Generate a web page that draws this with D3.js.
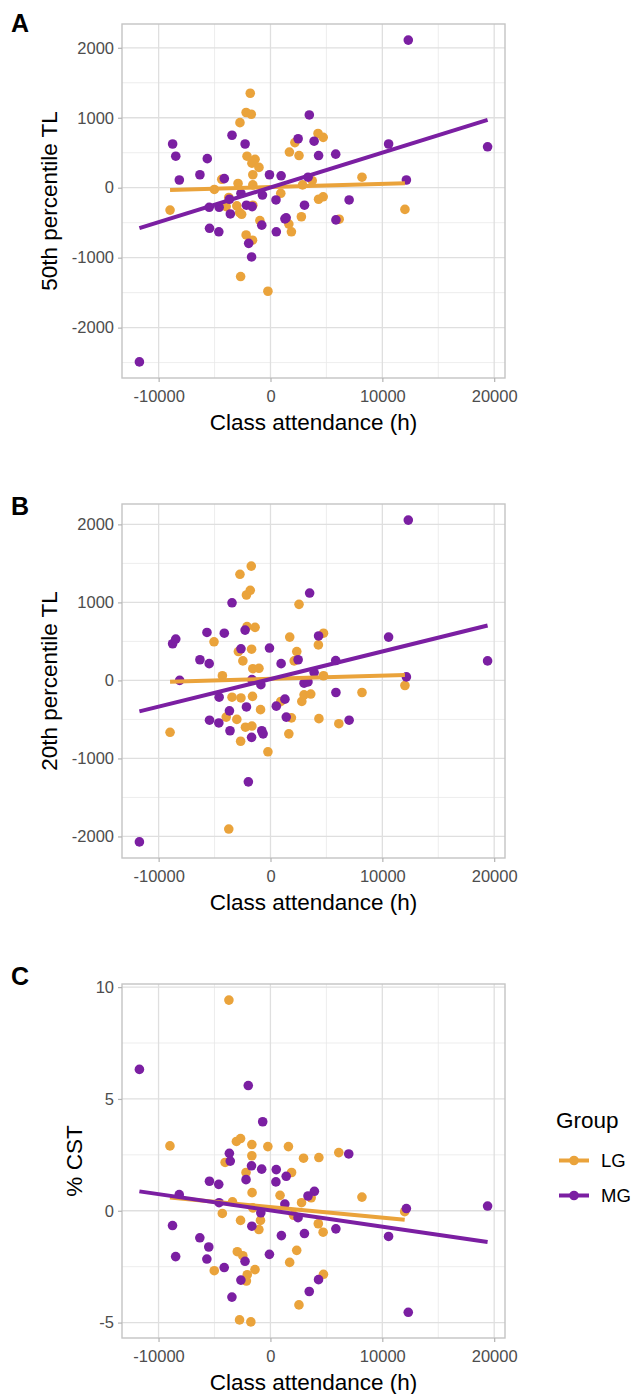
<!DOCTYPE html>
<html lang="en">
<head>
<meta charset="utf-8">
<title>Class attendance</title>
<script src="https://d3js.org/d3.v7.min.js"></script>
<style>
  body { margin: 0; background: #fff; }
  text { font-family: "Liberation Sans", Arial, sans-serif; }
</style>
</head>
<body>
<script>
// sizes
const svgWidth = 644, svgHeight = 1394;
const panelLeft = 122, panelRight = 505, panelH = 354;
const lgColor = "#EAA33B", mgColor = "#7B1FA2";

// ticks
const xTicks = [-10000, 0, 10000, 20000];
const tlTicks = [-2000, -1000, 0, 1000, 2000];
const cstTicks = [-5, 0, 5, 10];
const groups = ["LG", "MG"];

// panel A: 50th percentile TL, [class attendance, value]
const a_lg = [[-1810,1350],[-2180,1075],[-1720,1050],[-2730,930],[4250,775],[4710,720],[2180,645],[1690,510],[2550,460],[-2100,450],[-1380,405],[-1660,350],[-1030,290],[-1580,185],[-4360,120],[-2900,60],[-5020,-25],[-1580,40],[8180,150],[2870,40],[3730,100],[920,-80],[-8980,-320],[-3730,-140],[-3010,-260],[-3960,-270],[-2760,-355],[-2580,-380],[-1580,-250],[4300,-165],[4710,-130],[2760,-415],[-950,-470],[1640,-520],[1870,-630],[6140,-450],[-2180,-675],[-1610,-750],[-2670,-1270],[-230,-1480],[12020,-310]];
const a_mg = [[-8750,625],[-8470,450],[-8150,110],[-6310,185],[-5650,415],[-3440,750],[-2270,625],[-4130,130],[-5480,-280],[-4590,-280],[-5450,-580],[-4620,-630],[-3670,-165],[-3590,-375],[-2640,-80],[-2150,-250],[-1640,-270],[-720,-105],[-90,185],[950,170],[490,-175],[-780,-535],[-1950,-795],[-1690,-990],[520,-630],[1290,-445],[1400,-430],[2470,700],[3470,1040],[3900,665],[4300,460],[5830,480],[3360,150],[3040,-250],[5850,-460],[7030,-175],[10560,625],[12150,110],[12320,2110],[19410,585],[-11720,-2490]];

// panel B: 20th percentile TL
const b_lg = [[-1720,1465],[-2730,1360],[-1810,1155],[-2150,1095],[2550,975],[-2100,690],[-1380,680],[-5050,495],[1720,555],[4740,605],[4280,455],[-2870,370],[-1690,400],[-2470,250],[2350,370],[2120,250],[-1580,150],[-1030,155],[-4300,60],[4740,60],[8180,-155],[-8980,-665],[-3440,-215],[-2640,-225],[-1610,-205],[-890,-375],[920,-270],[2800,-270],[3000,-185],[3600,-175],[1870,-480],[4330,-490],[6110,-555],[1640,-685],[-3960,-470],[-3010,-500],[-2240,-600],[-1660,-585],[-2670,-780],[-230,-915],[-3730,-1905],[12020,-65]];
const b_mg = [[-8750,470],[-8470,530],[-8120,0],[-6310,265],[-5680,615],[-5480,215],[-4130,605],[-3440,995],[-2640,405],[-2270,645],[-4590,-215],[-3670,-390],[-5450,-510],[-4620,-545],[-3620,-645],[-2150,-340],[-1660,10],[-860,-55],[-1690,-730],[-780,-645],[-660,-685],[-1980,-1300],[-90,415],[950,215],[520,-330],[1290,-240],[1410,-470],[2470,265],[3000,-35],[3350,-20],[3500,1120],[3900,100],[4300,570],[5830,255],[5850,-155],[7030,-510],[10560,555],[12150,45],[12320,2055],[19410,250],[-11720,-2070]];

// panel C: % CST
const c_lg = [[-8980,2.9],[-3040,3.1],[-2670,3.23],[-1660,2.96],[-230,2.87],[1610,2.87],[2960,2.35],[4330,2.38],[6110,2.6],[-1660,2.46],[-4050,2.16],[-2180,1.71],[1890,1.71],[-1640,0.81],[860,0.69],[2780,0.36],[3640,0.58],[8180,0.61],[-3390,0.4],[-4300,-0.12],[-1580,0.13],[-2670,-0.43],[-890,-0.43],[-1030,-0.84],[4280,-0.58],[4710,-0.96],[2350,-1.77],[1720,-2.31],[-2960,-1.83],[-2470,-2.01],[-5020,-2.68],[-1380,-2.63],[-2070,-2.86],[-2150,-3.14],[4740,-2.84],[2550,-4.21],[-2760,-4.88],[-1750,-4.97],[-3710,9.42],[12000,-0.04],[2070,-0.2]];
const c_mg = [[-11710,6.32],[-1980,5.6],[-690,3.98],[7000,2.54],[-3670,2.57],[-3590,2.22],[-1690,2.01],[-780,1.86],[520,1.84],[1410,1.54],[490,1.29],[-2180,1.39],[-5450,1.32],[-4620,1.18],[3930,0.87],[3360,0.66],[-8150,0.72],[-4590,0.36],[1290,0.3],[-860,-0.09],[2470,-0.31],[-8750,-0.66],[-1660,-0.69],[980,-1.11],[3040,-1.02],[5850,-0.81],[10560,-1.15],[-6310,-1.21],[-5510,-1.62],[-8470,-2.05],[-5680,-2.16],[-90,-1.95],[-2270,-2.26],[-4130,-2.54],[-2640,-3.1],[4300,-3.08],[3470,-3.61],[-3440,-3.86],[12150,0.1],[12320,-4.54],[19410,0.21]];

const panels = [
  {label: "A", top: 24, labelY: 32, title: "50th percentile TL", titleX: 49, lg: a_lg, mg: a_mg, yTicks: tlTicks},
  {label: "B", top: 504, labelY: 515, title: "20th percentile TL", titleX: 49, lg: b_lg, mg: b_mg, yTicks: tlTicks},
  {label: "C", top: 984, labelY: 985, title: "% CST", titleX: 74, lg: c_lg, mg: c_mg, yTicks: cstTicks}
];

const svg = d3.select("body").append("svg")
  .attr("width", svgWidth)
  .attr("height", svgHeight);

// ggplot style 5% expansion
function expand(ext) {
  const r = ext[1] - ext[0];
  return [ext[0] - 0.05 * r, ext[1] + 0.05 * r];
}

// minor breaks halfway between majors, kept inside limits
function minors(ticks, dom) {
  const step = ticks[1] - ticks[0];
  const out = [];
  for (let v = ticks[0] - step / 2; v <= ticks[ticks.length - 1] + step / 2; v += step) {
    if (v > dom[0] && v < dom[1]) out.push(v);
  }
  return out;
}

// least squares line over the group's x range
function fit(pts) {
  const mx = d3.mean(pts, d => d[0]), my = d3.mean(pts, d => d[1]);
  const sxy = d3.sum(pts, d => (d[0] - mx) * (d[1] - my));
  const sxx = d3.sum(pts, d => (d[0] - mx) * (d[0] - mx));
  const b = sxy / sxx, a = my - b * mx;
  const ext = d3.extent(pts, d => d[0]);
  return ext.map(x => [x, a + b * x]);
}

panels.forEach(p => {
  const all = p.lg.concat(p.mg);
  const xScale = d3.scaleLinear()
    .domain(expand(d3.extent(all, d => d[0])))
    .range([panelLeft, panelRight]);
  const yScale = d3.scaleLinear()
    .domain(expand(d3.extent(all, d => d[1])))
    .range([p.top + panelH, p.top]);

  const g = svg.append("g");

  // minor grid
  g.selectAll(".vminor").data(minors(xTicks, xScale.domain())).enter().append("line")
    .attr("x1", d => xScale(d)).attr("x2", d => xScale(d))
    .attr("y1", p.top).attr("y2", p.top + panelH)
    .attr("stroke", "#e9e9e9").attr("stroke-width", 0.8);
  g.selectAll(".hminor").data(minors(p.yTicks, yScale.domain())).enter().append("line")
    .attr("x1", panelLeft).attr("x2", panelRight)
    .attr("y1", d => yScale(d)).attr("y2", d => yScale(d))
    .attr("stroke", "#e9e9e9").attr("stroke-width", 0.8);

  // major grid
  g.selectAll(".vmajor").data(xTicks).enter().append("line")
    .attr("x1", d => xScale(d)).attr("x2", d => xScale(d))
    .attr("y1", p.top).attr("y2", p.top + panelH)
    .attr("stroke", "#dfdfdf").attr("stroke-width", 1.3);
  g.selectAll(".hmajor").data(p.yTicks).enter().append("line")
    .attr("x1", panelLeft).attr("x2", panelRight)
    .attr("y1", d => yScale(d)).attr("y2", d => yScale(d))
    .attr("stroke", "#dfdfdf").attr("stroke-width", 1.3);

  // points
  g.selectAll(".lg").data(p.lg).enter().append("circle")
    .attr("cx", d => xScale(d[0])).attr("cy", d => yScale(d[1]))
    .attr("r", 4.8).attr("fill", lgColor);
  g.selectAll(".mg").data(p.mg).enter().append("circle")
    .attr("cx", d => xScale(d[0])).attr("cy", d => yScale(d[1]))
    .attr("r", 4.8).attr("fill", mgColor);

  // regression lines
  const line = d3.line().x(d => xScale(d[0])).y(d => yScale(d[1]));
  [[p.lg, lgColor], [p.mg, mgColor]].forEach(([pts, col]) => {
    g.append("path")
      .attr("d", line(fit(pts)))
      .attr("fill", "none").attr("stroke", col)
      .attr("stroke-width", 4);
  });

  // panel border
  g.append("rect")
    .attr("x", panelLeft).attr("y", p.top)
    .attr("width", panelRight - panelLeft).attr("height", panelH)
    .attr("fill", "none").attr("stroke", "#c4c4c4").attr("stroke-width", 1.4);

  // axes
  const bottomAxis = d3.axisBottom(xScale).tickValues(xTicks).tickSize(4).tickPadding(4).tickFormat(d3.format("d"));
  const xg = g.append("g")
    .attr("transform", "translate(0," + (p.top + panelH) + ")")
    .call(bottomAxis);
  const leftAxis = d3.axisLeft(yScale).tickValues(p.yTicks).tickSize(4).tickPadding(4).tickFormat(d3.format("d"));
  const yg = g.append("g")
    .attr("transform", "translate(" + panelLeft + ",0)")
    .call(leftAxis);
  [xg, yg].forEach(ax => {
    ax.select(".domain").remove();
    ax.selectAll(".tick line").attr("stroke", "#b3b3b3").attr("stroke-width", 1.2);
    ax.selectAll(".tick text")
      .attr("fill", "#4d4d4d")
      .style("font-size", "16.5px")
      .style("font-family", "'Liberation Sans', Arial, sans-serif")
      .text(function () { return d3.select(this).text().replace("\u2212", "-"); });
  });
  xg.selectAll(".tick text").attr("dy", "0.95em");

  // titles
  g.append("text")
    .attr("x", (panelLeft + panelRight) / 2)
    .attr("y", p.top + panelH + 52)
    .attr("text-anchor", "middle")
    .style("font-size", "22.5px")
    .text("Class attendance (h)");
  g.append("text")
    .attr("transform", "translate(" + p.titleX + "," + (p.top + panelH / 2) + ") rotate(-90)")
    .attr("text-anchor", "middle")
    .attr("dominant-baseline", "central")
    .style("font-size", "22.5px")
    .text(p.title);

  // panel tag
  g.append("text")
    .attr("x", 11).attr("y", p.labelY)
    .style("font-size", "25px").style("font-weight", "bold")
    .text(p.label);
});

// legend
const legend = svg.append("g");
legend.append("text")
  .attr("x", 556).attr("y", 1128)
  .style("font-size", "22.5px")
  .text("Group");
const keyY = d3.scalePoint().domain(groups).range([1160.5, 1195.5]);
const keyColor = d3.scaleOrdinal().domain(groups).range([lgColor, mgColor]);
groups.forEach(gr => {
  legend.append("line")
    .attr("x1", 559).attr("x2", 589)
    .attr("y1", keyY(gr)).attr("y2", keyY(gr))
    .attr("stroke", keyColor(gr)).attr("stroke-width", 4);
  legend.append("circle")
    .attr("cx", 574).attr("cy", keyY(gr)).attr("r", 4.8)
    .attr("fill", keyColor(gr));
  legend.append("text")
    .attr("x", 601).attr("y", keyY(gr))
    .attr("dominant-baseline", "central")
    .style("font-size", "18.5px")
    .text(gr);
});
</script>
</body>
</html>
